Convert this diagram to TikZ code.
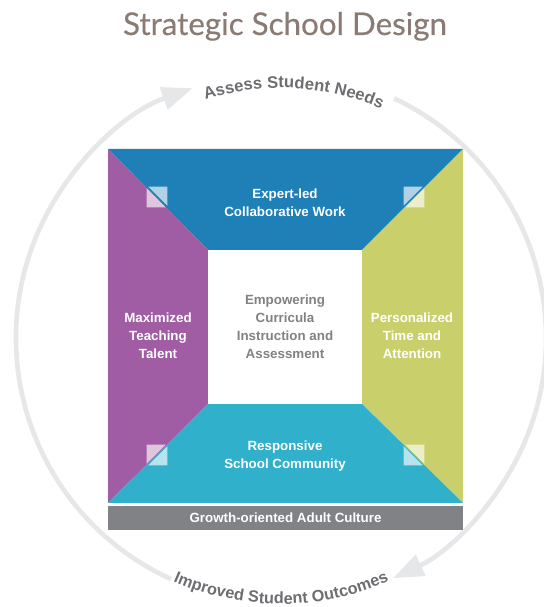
\documentclass[tikz,border=0pt]{standalone}
\usepackage{fontspec}
\setmainfont{Liberation Sans}
\newfontfamily\titlefont[FakeBold=0.4]{Lato}
\usetikzlibrary{arrows.meta,decorations.text}

\definecolor{sdBlue}{RGB}{31,128,183}
\definecolor{sdPurple}{RGB}{160,93,163}
\definecolor{sdGreen}{RGB}{201,207,106}
\definecolor{sdCyan}{RGB}{49,176,204}
\definecolor{sdBar}{RGB}{128,130,133}
\definecolor{sdRing}{RGB}{230,231,232}
\definecolor{sdText}{RGB}{109,110,113}
\definecolor{sdTitle}{RGB}{138,124,117}

\tikzset{
  paneltext/.style={text=white, align=center, font=\fontsize{10}{13.6}\selectfont\bfseries},
  coretext/.style={paneltext, text=sdBar},
  ring/.style={draw=sdRing, line width=3.5pt, -{Triangle[length=23pt,width=17pt]}},
  tickmark/.style={fill=white, fill opacity=0.65, draw=none},
}

\begin{document}
\begin{tikzpicture}[x=0.75pt,y=0.75pt]
  \useasboundingbox (0,0) rectangle (543,607);
  \coordinate (c) at (281,269);
  \coordinate (oTL) at (108,458);
  \coordinate (oTR) at (463,458);
  \coordinate (oBR) at (463,104);
  \coordinate (oBL) at (108,104);
  \coordinate (iTL) at (208,357);
  \coordinate (iTR) at (362,357);
  \coordinate (iBR) at (362,203);
  \coordinate (iBL) at (208,203);

  % title
  \node[anchor=base, text=sdTitle, font=\titlefont\fontsize{23.5}{28}\selectfont] (title) at (285,572) {Strategic School Design};

  % cycle ring
  \draw[ring] ([shift={(64.7:265)}]c) arc[start angle=64.7, end angle=-65, radius=265];
  \draw[ring] ([shift={(245.5:265)}]c) arc[start angle=245.5, end angle=109.5, radius=265];
  \path[decorate, decoration={text along path, text align=center, text color=sdText,
      text={|\fontsize{12.5}{14}\selectfont\bfseries|Assess Student Needs}}]
    ([shift={(122:250)}]c) arc[start angle=122, end angle=52, radius=250];
  \path[decorate, decoration={text along path, text align=center, text color=sdText,
      text={|\fontsize{12.2}{14}\selectfont\bfseries|Improved Student Outcomes}}]
    ([shift={(232:266)}]c) arc[start angle=232, end angle=308, radius=266];

  % frame panels
  \fill[sdBlue] (oTL) -- (oTR) -- (iTR) -- (iTL) -- cycle;
  \fill[sdPurple] (oTL) -- (iTL) -- (iBL) -- (oBL) -- cycle;
  \fill[sdGreen] (oTR) -- (oBR) -- (iBR) -- (iTR) -- cycle;
  \fill[sdCyan] (oBL) -- (iBL) -- (iBR) -- (oBR) -- cycle;
  \fill[white] (iTL) rectangle (iBR);
  \fill[sdBar] (108,77) rectangle (463,101);

  % corner marks
  \foreach \x/\y/\d in {157/410/1, 414/410/-1, 157/152/-1, 414/152/1}{
    \begin{scope}[shift={(\x,\y)}, xscale=\d]
      \fill[tickmark] (-8.7,10.3) -- (10.3,10.3) -- (10.3,-8.7) -- cycle;
      \fill[tickmark] (-10.3,8.7) -- (-10.3,-10.3) -- (8.7,-10.3) -- cycle;
    \end{scope}
  }

  % labels
  \node[paneltext] (collab) at (285,404) {Expert-led\\Collaborative Work};
  \node[paneltext] (talent) at (158,271) {Maximized\\Teaching\\Talent};
  \node[paneltext] (time) at (412,271) {Personalized\\Time and\\Attention};
  \node[paneltext] (community) at (285,151) {Responsive\\School Community};
  \node[coretext] (core) at (285,280) {Empowering\\Curricula\\Instruction and\\Assessment};
  \node[paneltext] (culture) at (285.5,89) {Growth-oriented Adult Culture};
\end{tikzpicture}
\end{document}
